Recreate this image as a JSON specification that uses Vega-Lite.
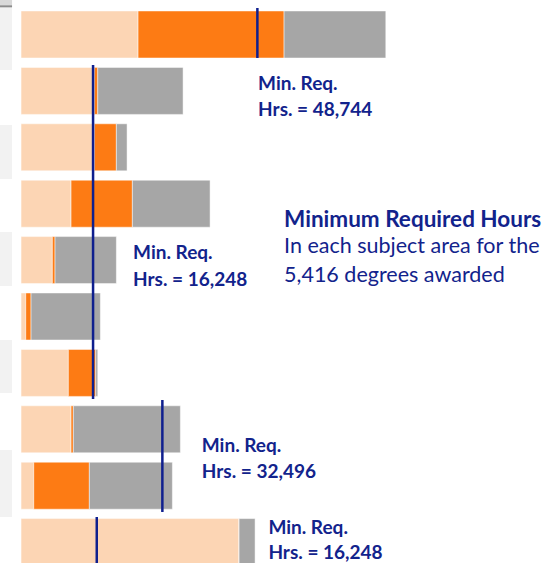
{
  "$schema": "https://vega.github.io/schema/vega-lite/v6.json",
  "autosize": "none",
  "width": 554,
  "height": 563,
  "padding": 0,
  "background": "white",
  "config": {"view": {"stroke": null}},
  "datasets": {
    "segments": [
      {"row": 1, "segment": "a", "hours": 26676},
      {"row": 1, "segment": "b", "hours": 33288},
      {"row": 1, "segment": "c", "hours": 23188},
      {"row": 2, "segment": "a", "hours": 16712},
      {"row": 2, "segment": "b", "hours": 776},
      {"row": 2, "segment": "c", "hours": 19448},
      {"row": 3, "segment": "a", "hours": 16712},
      {"row": 3, "segment": "b", "hours": 5016},
      {"row": 3, "segment": "c", "hours": 2440},
      {"row": 4, "segment": "a", "hours": 11400},
      {"row": 4, "segment": "b", "hours": 13976},
      {"row": 4, "segment": "c", "hours": 17716},
      {"row": 5, "segment": "a", "hours": 7136},
      {"row": 5, "segment": "b", "hours": 616},
      {"row": 5, "segment": "c", "hours": 13976},
      {"row": 6, "segment": "a", "hours": 1072},
      {"row": 6, "segment": "b", "hours": 1208},
      {"row": 6, "segment": "c", "hours": 15800},
      {"row": 7, "segment": "a", "hours": 10784},
      {"row": 7, "segment": "b", "hours": 6248},
      {"row": 7, "segment": "c", "hours": 456},
      {"row": 8, "segment": "a", "hours": 11400},
      {"row": 8, "segment": "b", "hours": 524},
      {"row": 8, "segment": "c", "hours": 24396},
      {"row": 9, "segment": "a", "hours": 2896},
      {"row": 9, "segment": "b", "hours": 12676},
      {"row": 9, "segment": "c", "hours": 18924},
      {"row": 10, "segment": "a", "hours": 49704},
      {"row": 10, "segment": "b", "hours": 0},
      {"row": 10, "segment": "c", "hours": 3648}
    ],
    "minreq": [
      {"hours": 53876, "from": 0.53, "to": 1.417},
      {"hours": 16416, "from": 1.541, "to": 7.463},
      {"hours": 32216, "from": 7.48, "to": 9.466},
      {"hours": 17260, "from": 9.555, "to": 10.4}
    ],
    "bands": [
      {"from": 0.512, "to": 1.629},
      {"from": 2.605, "to": 3.562},
      {"from": 4.502, "to": 5.459},
      {"from": 6.417, "to": 7.356},
      {"from": 8.367, "to": 9.555}
    ],
    "boldText": [
      {"label": "Min. Req.", "hours": 54036, "row": 1.984},
      {"label": "Hrs. = 48,744", "hours": 54036, "row": 2.445},
      {"label": "Min. Req.", "hours": 25536, "row": 4.98},
      {"label": "Hrs. = 16,248", "hours": 25536, "row": 5.459},
      {"label": "Min. Req.", "hours": 41200, "row": 8.408},
      {"label": "Hrs. = 32,496", "hours": 41200, "row": 8.858},
      {"label": "Min. Req.", "hours": 56384, "row": 9.862},
      {"label": "Hrs. = 16,248", "hours": 56384, "row": 10.3}
    ],
    "titleText": [
      {"label": "Minimum Required Hours", "hours": 59964, "row": 4.408}
    ],
    "plainText": [
      {"label": "In each subject area for the", "hours": 59964, "row": 4.879},
      {"label": "5,416 degrees awarded", "hours": 59964, "row": 5.383}
    ]
  },
  "layer": [
    {
      "data": {"name": "bands"},
      "mark": {"type": "rect", "color": "#f2f2f2"},
      "encoding": {
        "x": {"datum": -4800, "type": "quantitative", "scale": {"domain": [-4800, 121500], "nice": false, "zero": false, "padding": 0}, "axis": null},
        "x2": {"datum": -2052},
        "y": {"field": "from", "type": "quantitative", "scale": {"domain": [0.3883, 10.3706], "nice": false, "zero": false, "reverse": true, "padding": 0}, "axis": null},
        "y2": {"field": "to"}
      }
    },
    {
      "data": {"values": [{"from": 0.3883, "to": 0.482}]},
      "mark": {"type": "rect", "color": "#d9d9d9"},
      "encoding": {
        "x": {"datum": -4800, "type": "quantitative"},
        "x2": {"datum": -2052},
        "y": {"field": "from", "type": "quantitative"},
        "y2": {"field": "to"}
      }
    },
    {
      "data": {"values": [{"from": 0.482, "to": 0.518}]},
      "mark": {"type": "rect", "color": "#8c8c8c"},
      "encoding": {
        "x": {"datum": -4800, "type": "quantitative"},
        "x2": {"datum": -2052},
        "y": {"field": "from", "type": "quantitative"},
        "y2": {"field": "to"}
      }
    },
    {
      "data": {"name": "segments"},
      "transform": [
        {"stack": "hours", "groupby": ["row"], "sort": [{"field": "segment", "order": "ascending"}], "as": ["x0", "x1"]}
      ],
      "mark": {"type": "bar", "orient": "horizontal", "size": 47, "stroke": "#ffffff", "strokeWidth": 0.8, "strokeOpacity": 0.6},
      "encoding": {
        "x": {"field": "x0", "type": "quantitative"},
        "x2": {"field": "x1"},
        "y": {"field": "row", "type": "quantitative"},
        "color": {"field": "segment", "type": "nominal", "legend": null,
          "scale": {"domain": ["a", "b", "c"], "range": ["#fcd5b4", "#fd7b14", "#a6a6a6"]}}
      }
    },
    {
      "data": {"name": "minreq"},
      "mark": {"type": "rule", "color": "#0f1f8e", "strokeWidth": 2.5},
      "encoding": {
        "x": {"field": "hours", "type": "quantitative"},
        "y": {"field": "from", "type": "quantitative"},
        "y2": {"field": "to"}
      }
    },
    {
      "data": {"name": "boldText"},
      "mark": {"type": "text", "align": "left", "baseline": "alphabetic", "font": "Lato", "fontWeight": "bold", "fontSize": 19, "color": "#12238c"},
      "encoding": {
        "x": {"field": "hours", "type": "quantitative"},
        "y": {"field": "row", "type": "quantitative"},
        "text": {"field": "label"}
      }
    },
    {
      "data": {"name": "titleText"},
      "mark": {"type": "text", "align": "left", "baseline": "alphabetic", "font": "Lato", "fontWeight": "bold", "fontSize": 22.5, "color": "#12238c"},
      "encoding": {
        "x": {"field": "hours", "type": "quantitative"},
        "y": {"field": "row", "type": "quantitative"},
        "text": {"field": "label"}
      }
    },
    {
      "data": {"name": "plainText"},
      "mark": {"type": "text", "align": "left", "baseline": "alphabetic", "font": "Lato", "fontWeight": "normal", "fontSize": 21.5, "color": "#12238c"},
      "encoding": {
        "x": {"field": "hours", "type": "quantitative"},
        "y": {"field": "row", "type": "quantitative"},
        "text": {"field": "label"}
      }
    }
  ]
}
